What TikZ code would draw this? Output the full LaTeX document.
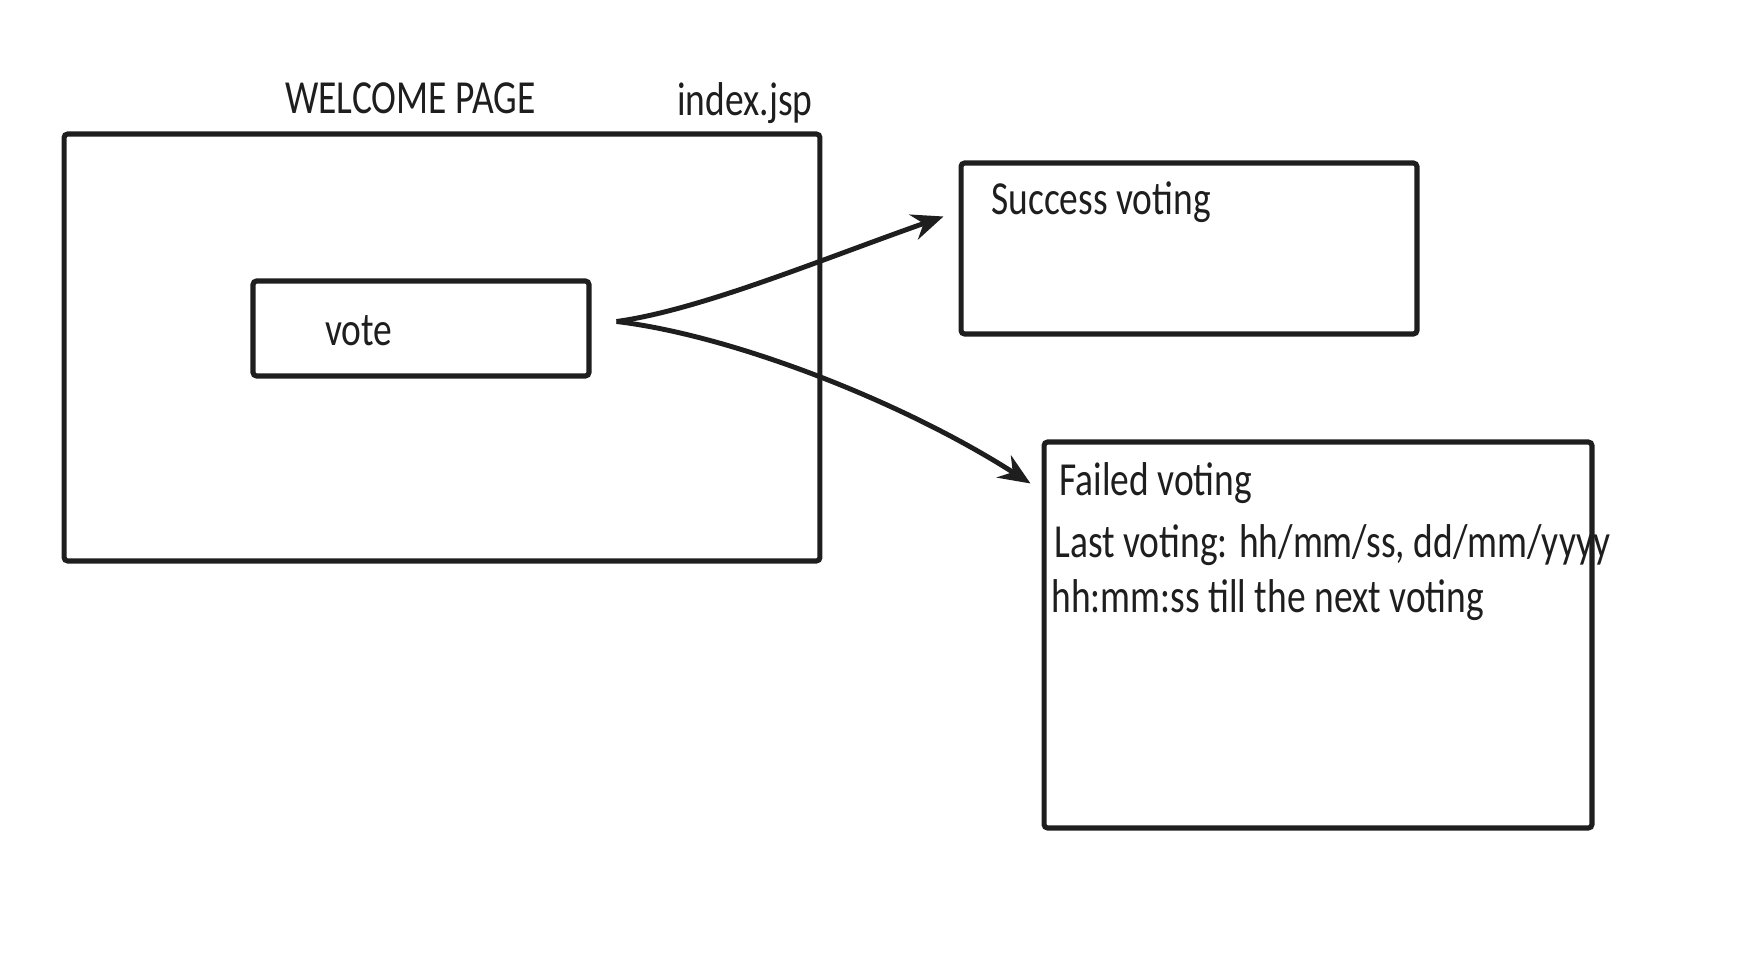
\documentclass[tikz,border=0pt]{standalone}
\usepackage{fontspec}
\setmainfont[FakeStretch=0.79]{Carlito}
\usepackage{tikz}
\usetikzlibrary{arrows.meta,calc,positioning}

\definecolor{ink}{HTML}{1E1E1E}

\begin{document}
\begin{tikzpicture}[
    x=0.02cm, y=-0.02cm,
    frame/.style={
      draw=ink, line width=2.9pt,
      rounded corners=2pt,
      inner sep=0pt
    },
    label/.style={
      text=ink, inner sep=0pt, anchor=base west,
      font=\fontsize{27}{30}\selectfont
    },
    arr/.style={-{Stealth[length=18pt,width=15pt,inset=6pt]}, line width=2.8pt, draw=ink}
  ]

  % Canvas
  \useasboundingbox (0,0) rectangle (1750,972);

  % Boxes
  \node[frame, minimum width=15.12cm, minimum height=8.54cm] (welcome) at (442,347.5) {};
  \node[frame, minimum width=6.72cm,  minimum height=1.9cm]  (vote)    at (421,328.5) {};
  \node[frame, minimum width=9.12cm,  minimum height=3.42cm] (success) at (1189,248.5) {};
  \node[frame, minimum width=10.96cm, minimum height=7.72cm] (failed)  at (1318,635) {};

  % Texts
  \node[label] (welcomeT) at (285,114) {WELCOME PAGE};
  \node[label] (indexT)   at (677,116) {index.jsp};
  \node[label] (voteT)    at (325,346) {vote};
  \node[label] (successT) at (991,215) {Success voting};
  \node[label] (failedT)  at (1059,496) {Failed voting};
  \node[label] (lastT)    at (1054,558) {Last voting: hh/mm/ss, dd/mm/yyyy};
  \node[label] (nextT)    at (1051,612) {hh:mm:ss till the next voting};

  % Fork point and arrow tips
  \coordinate (fork) at ($(vote.east)+(25,-7)$);
  \coordinate (tipS) at ($(success.west)+(-15,-32)$);
  \coordinate (tipF) at ($(failed.north west)+(-11,44)$);

  % Connectors
  \draw[arr] (fork) .. controls (700,310) and (820,260) .. (tipS);
  \draw[arr] (fork) .. controls (730,335) and (900,400) .. (tipF);

\end{tikzpicture}
\end{document}
